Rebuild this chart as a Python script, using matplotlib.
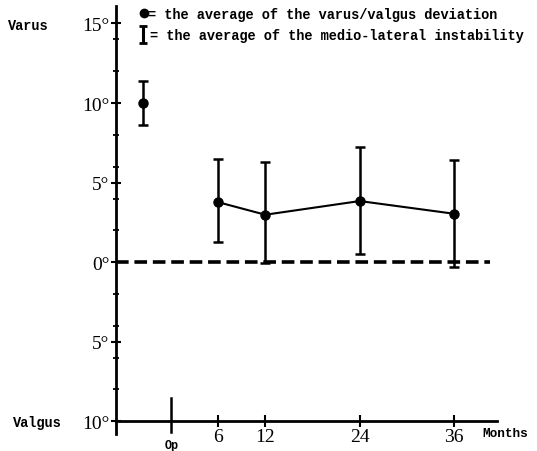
# Varus/valgus deviation and medio-lateral instability over follow-up

import matplotlib
matplotlib.use('Agg')
import matplotlib.pyplot as plt

# months after operation (Op = 0), preoperative point sits before Op
PreopMonth = -3.5
PreopMean = 10.0
PreopLow = 8.6
PreopHigh = 11.4

Months = [6, 12, 24, 36]
MeanDeviation = [3.77, 2.98, 3.84, 3.04]
InstabilityLow = [1.24, -0.08, 0.53, -0.29]
InstabilityHigh = [6.50, 6.29, 7.26, 6.42]

YTicks = [-10, -5, 0, 5, 10, 15]
YTickLabels = ['10°', '5°', '0°', '5°', '10°', '15°']
YMinor = [-8, -6, -4, -2, 2, 4, 6, 8, 12, 14]
XTickLabels = ['6', '12', '24', '36']

MONO = 'Liberation Mono'
SERIF = 'Liberation Serif'

fig = plt.figure(figsize=(5.37, 4.52), dpi=100)
ax = fig.add_axes([0.2155, 0.0376, 0.7095, 0.947])
ax.set_xlim(-7, 41.4)
ax.set_ylim(-10.8, 16.1)

ax.spines['top'].set_visible(False)
ax.spines['right'].set_visible(False)
ax.spines['bottom'].set_position(('data', -10))
ax.spines['left'].set_linewidth(2)
ax.spines['bottom'].set_linewidth(2)

ax.set_yticks(YTicks)
ax.set_yticklabels(YTickLabels, fontfamily=SERIF, fontsize=14)
ax.set_yticks(YMinor, minor=True)
ax.set_xticks(Months)
ax.set_xticklabels(XTickLabels, fontfamily=SERIF, fontsize=14)
ax.tick_params(axis='y', which='major', direction='inout', length=7, width=1.5, pad=1)
ax.tick_params(axis='y', which='minor', direction='inout', length=5, width=1.3)
ax.tick_params(axis='x', which='major', direction='inout', length=8, width=1.5, pad=1)

# zero line
ax.plot([-7, 40.5], [0, 0], color='black', lw=2.6, dashes=(3.5, 1.6), clip_on=False)

# Op marker
ax.plot([0, 0], [-8.55, -10.7], color='black', lw=1.8, clip_on=False)

# preoperative value
ax.errorbar([PreopMonth], [PreopMean],
            yerr=[[PreopMean - PreopLow], [PreopHigh - PreopMean]],
            fmt='o', color='black', ms=6.5, elinewidth=1.8, capsize=3.5, capthick=1.8)

# follow-up values
err = [[m - lo for m, lo in zip(MeanDeviation, InstabilityLow)],
       [hi - m for m, hi in zip(MeanDeviation, InstabilityHigh)]]
ax.errorbar(Months, MeanDeviation, yerr=err, fmt='-o', color='black', ms=6.5,
            lw=1.5, elinewidth=1.8, capsize=3.5, capthick=1.8)

# legend drawn by hand
ax.plot([-3.4], [15.65], 'o', color='black', ms=6, clip_on=False)
fig.text(148 / 537, 1 - 15 / 452, '= the average of the varus/valgus deviation',
         fontfamily=MONO, fontweight='bold', fontsize=9.8, va='center', ha='left')
ax.errorbar([-3.5], [14.3], yerr=[[0.5], [0.55]], fmt='none', color='black',
            elinewidth=2.2, capsize=3, capthick=2, clip_on=False)
fig.text(150 / 537, 1 - 36 / 452, '= the average of the medio-lateral instability',
         fontfamily=MONO, fontweight='bold', fontsize=9.8, va='center', ha='left')

fig.text(28 / 537, 1 - 25.5 / 452, 'Varus', fontfamily=MONO, fontweight='bold',
         fontsize=9.8, va='center', ha='center')
fig.text(37 / 537, 1 - 423 / 452, 'Valgus', fontfamily=MONO, fontweight='bold',
         fontsize=9.8, va='center', ha='center')
fig.text(482 / 537, 1 - 434 / 452, 'Months', fontfamily=MONO, fontweight='bold',
         fontsize=9.2, va='center', ha='left')
fig.text(172 / 537, 1 - 446 / 452, 'Op', fontfamily=MONO, fontweight='bold',
         fontsize=8.5, va='center', ha='center')

fig.savefig('out.png', dpi=100)
